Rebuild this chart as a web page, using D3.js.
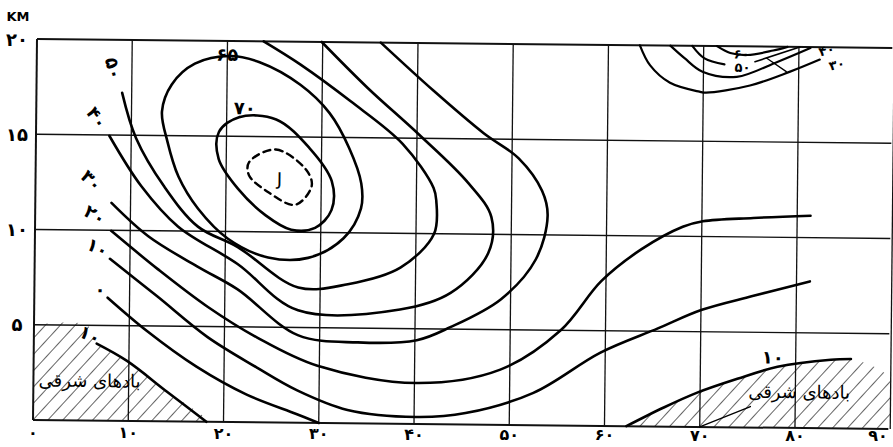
<!DOCTYPE html>
<html><head><meta charset="utf-8">
<script src="https://cdn.jsdelivr.net/npm/d3@7/dist/d3.min.js"></script>
<style>body{margin:0;background:#fff}svg{display:block}</style>
</head><body>
<script>
// ---- data (latitude in degrees, height in km) ----
const xTicks = [0,10,20,30,40,50,60,70,80,90];
const xTickLabels = ["۰","۱۰","۲۰","۳۰","۴۰","۵۰","۶۰","۷۰","۸۰","۹۰"];
const yTicks = [5,10,15,20];
const yTickLabels = ["۵","۱۰","۱۵","۲۰"];
const yUnit = "KM";

const jetCore = [[22.4,13.65],[25.2,14.33],[28.4,13.28],[29.0,12.44],[27.3,11.44],[24.5,12.07],[22.4,12.97]];
const c70 = [[19.2,15.22],[21.3,16.01],[25.2,15.91],[28.7,14.44],[31.1,12.7],[31.1,11.18],[29.4,10.24],[26.9,10.13],[24.2,10.87],[21.3,12.23],[19.2,13.81]];
const c65 = [[13.2,16.27],[13.8,14.7],[15.0,12.86],[17.1,11.18],[20.3,9.61],[24.5,8.66],[28.7,8.66],[32.4,9.71],[34.2,11.29],[34.2,12.6],[32.9,14.44],[30.8,16.27],[27.7,17.74],[23.4,18.9],[20.3,19.21],[16.6,18.79],[14.2,17.69]];
const c50 = [[9.0,17.22],[10.5,14.86],[13.5,12.34],[17.1,10.24],[21.3,9.19],[27.7,7.1],[32.9,7.3],[38.4,8.2],[41.9,10.0],[42.1,11.7],[41.8,12.4],[38.5,14.7],[33.0,16.9],[27.7,18.8],[23.8,20.0]];
const c40 = [[7.7,14.96],[11.1,12.34],[15.0,10.24],[21.3,8.3],[27.7,5.9],[38.4,6.0],[43.7,6.9],[47.6,9.0],[47.9,10.9],[45.4,12.7],[40.2,15.2],[34.8,17.6],[29.9,20.0]];
const c30 = [[8.0,11.44],[11.9,9.71],[17.1,8.14],[21.3,6.98],[27.7,4.6],[34.0,4.25],[40.2,4.4],[43.7,5.1],[49.0,6.6],[52.6,8.7],[53.8,11.0],[53.2,12.3],[50.7,14.0],[47.0,15.3],[41.7,17.5],[36.1,20.0]];
const c20 = [[8.0,9.97],[12.9,8.0],[18.2,6.04],[23.4,4.46],[29.8,3.0],[40.2,2.15],[49.0,2.9],[55.3,5.0],[59.5,7.6],[63.7,9.3],[68.0,10.5],[70.1,10.8],[75.4,11.0],[81.4,11.15]];
const c10 = [[7.9,8.5],[12.9,6.56],[18.2,4.46],[23.4,2.89],[27.7,1.7],[33.0,0.7],[40.2,0.37],[45.4,0.6],[52.5,1.7],[59.5,3.85],[65.5,5.15],[70.1,6.15],[75.4,6.9],[81.4,7.7]];
const c0 = [[7.7,6.46],[11.9,4.72],[17.1,2.89],[22.4,1.45],[27.7,0.45],[30.0,0]];
const cEastW = [[6.6,4.04],[9.8,3.15],[14.0,1.57],[18.2,0]];
const cEastE = [[62.3,0],[66.2,1.0],[69.7,1.8],[73.9,2.55],[78.1,3.2],[83.7,3.6],[85.8,3.65]];
const cEastE2 = [[70.0,0],[75.3,1.1]];
const arc30 = [[63.3,20],[64.4,18.95],[66.5,18.05],[69.6,17.6],[70.3,17.55],[74.9,17.95],[79.1,18.7],[82.2,19.35]];
const arc40 = [[66.5,20],[68.0,19.35],[69.9,18.65],[73.5,18.4],[77.5,19.15],[81.2,19.95]];
const arc50 = [[68.8,20],[70.1,19.35],[72.2,19.05]];
const arc50b = [[75.4,19.2],[80.1,20.0]];
const arc50x = [[76.6,19.4],[78.7,18.7]];
const arc60 = [[71.4,20],[72.8,19.65],[74.6,19.55],[77.3,19.8],[78.8,20]];

const contourLabels = [
  {t:"۵۰", p:[8.1,18.5], r:75},
  {t:"۴۰", p:[6.4,15.9], r:55},
  {t:"۳۰", p:[5.9,12.6], r:45},
  {t:"۲۰", p:[6.3,10.8], r:30},
  {t:"۱۰", p:[6.6,9.1], r:25},
  {t:"۰", p:[6.9,6.9], r:0},
  {t:"۱۰", p:[5.9,4.5], r:25},
  {t:"۶۵", p:[20.0,19.3], r:0},
  {t:"۷۰", p:[21.9,16.5], r:0},
  {t:"J", p:[25.6,12.8], r:0},
  {t:"۳۰", p:[84.0,19.1], r:-15},
  {t:"۴۰", p:[82.9,19.85], r:-15},
  {t:"۵۰", p:[74.1,18.9], r:0},
  {t:"۶۰", p:[74.0,19.6], r:0},
  {t:"۱۰", p:[77.6,3.7], r:0}
];
const easterliesText = "بادهای شرقی";
const easterliesPos = [[5.9,2.1],[80.4,1.9]];

// ---- drawing ----
const W = 893, H = 447;
const svg = d3.select("body").append("svg").attr("width", W).attr("height", H);
const x = d3.scaleLinear().domain([0,90]).range([37, 37 + 90*9.525]);
const y = d3.scaleLinear().domain([0,20]).range([420, 39]);

const defs = svg.append("defs");
const pat = defs.append("pattern").attr("id","hatch").attr("patternUnits","userSpaceOnUse")
  .attr("width",11).attr("height",11).attr("patternTransform","rotate(42)");
pat.append("line").attr("x1",0).attr("y1",0).attr("x2",0).attr("y2",11)
  .attr("stroke","#111").attr("stroke-width",1.3);
defs.append("clipPath").attr("id","frame").append("rect")
  .attr("x", x(0)).attr("y", y(20)).attr("width", x(90)-x(0)).attr("height", y(0)-y(20));

const g = svg.append("g").attr("transform","rotate(0.6,37,39)");

// hatched easterly regions
const hatchW = [[0,5],[5.6,5]].concat(cEastW).concat([[0,0]]);
const hatchE = cEastE.concat([[90,2.6],[90,0]]);
const hl = d3.line().x(d=>x(d[0])).y(d=>y(d[1])).curve(d3.curveCatmullRom);
const gh = g.append("g").attr("clip-path","url(#frame)");
gh.append("path").attr("d", hl(hatchW)+"Z").attr("fill","url(#hatch)");
gh.append("path").attr("d", hl(hatchE)+"Z").attr("fill","url(#hatch)");

// grid
const gg = g.append("g").attr("stroke","#111").attr("fill","none");
xTicks.forEach(v => {
  gg.append("line").attr("x1",x(v)).attr("x2",x(v)).attr("y1",y(0)).attr("y2",y(20))
    .attr("stroke-width", v===0 ? 2 : 1.3);
});
[0].concat(yTicks).forEach(v => {
  gg.append("line").attr("x1",x(0)).attr("x2",x(89.8)).attr("y1",y(v)).attr("y2",y(v))
    .attr("stroke-width", (v===0||v===20) ? 2 : 1.4);
});

// contours
const open = d3.line().x(d=>x(d[0])).y(d=>y(d[1])).curve(d3.curveCatmullRom.alpha(0.5));
const closed = d3.line().x(d=>x(d[0])).y(d=>y(d[1])).curve(d3.curveCatmullRomClosed.alpha(0.5));
const gc = g.append("g").attr("fill","none").attr("stroke","#000").attr("stroke-width",2.6)
  .attr("stroke-linecap","round").attr("stroke-linejoin","round");
gc.append("path").attr("d", closed(jetCore)).attr("stroke-dasharray","7,5").attr("stroke-width",2.4);
[c70, c65].forEach(c => gc.append("path").attr("d", closed(c)));
[c50, c40, c30, c20, c10, c0, cEastW, cEastE].forEach(c => gc.append("path").attr("d", open(c)));
[arc30, arc40, arc50, arc60].forEach(c => gc.append("path").attr("d", open(c)).attr("stroke-width",2.2));
[arc50b].forEach(c => gc.append("path").attr("d", open(c)).attr("stroke-width",1.6));
[arc50x, cEastE2].forEach(c => gc.append("path").attr("d", open(c)).attr("stroke-width",1.3));

// labels
const font = "DejaVu Sans";
const gl = g.append("g").attr("font-family", font).attr("font-weight","bold").attr("fill","#000");
contourLabels.forEach(l => {
  const small = l.p[0] > 70 && l.p[1] > 18;
  gl.append("text").attr("x", x(l.p[0])).attr("y", y(l.p[1]))
    .attr("text-anchor","middle").attr("dominant-baseline","central")
    .attr("font-size", l.t==="J" ? 18 : (small ? 13 : 18))
    .attr("font-weight", l.t==="J" ? "normal" : "bold")
    .attr("transform", `rotate(${l.r},${x(l.p[0])},${y(l.p[1])})`)
    .text(l.t);
});
easterliesPos.forEach(p => {
  gl.append("text").attr("x", x(p[0])).attr("y", y(p[1])).attr("font-weight","normal")
    .attr("text-anchor","middle").attr("dominant-baseline","central")
    .attr("font-size",18).attr("direction","rtl").text(easterliesText);
});
gl.append("text").attr("x", 18).attr("y", 16).attr("text-anchor","middle")
  .attr("dominant-baseline","central").attr("font-size",13).attr("transform","rotate(-0.6,37,39)").text(yUnit);

// tick labels (placed in page space, following the skewed grid)
const gt = svg.append("g").attr("font-family", font).attr("font-weight","bold").attr("fill","#000");
xTicks.forEach((v,i) => {
  gt.append("text").attr("x", Math.min(x(v) - 4, 878)).attr("y", 438 + (x(v)-37)*0.004).attr("text-anchor","middle")
    .attr("font-size",16).text(xTickLabels[i]);
});
yTicks.forEach((v,i) => {
  gt.append("text").attr("x", 17).attr("y", y(v)).attr("text-anchor","middle")
    .attr("dominant-baseline","central").attr("font-size",18).text(yTickLabels[i]);
});
</script>
</body></html>
